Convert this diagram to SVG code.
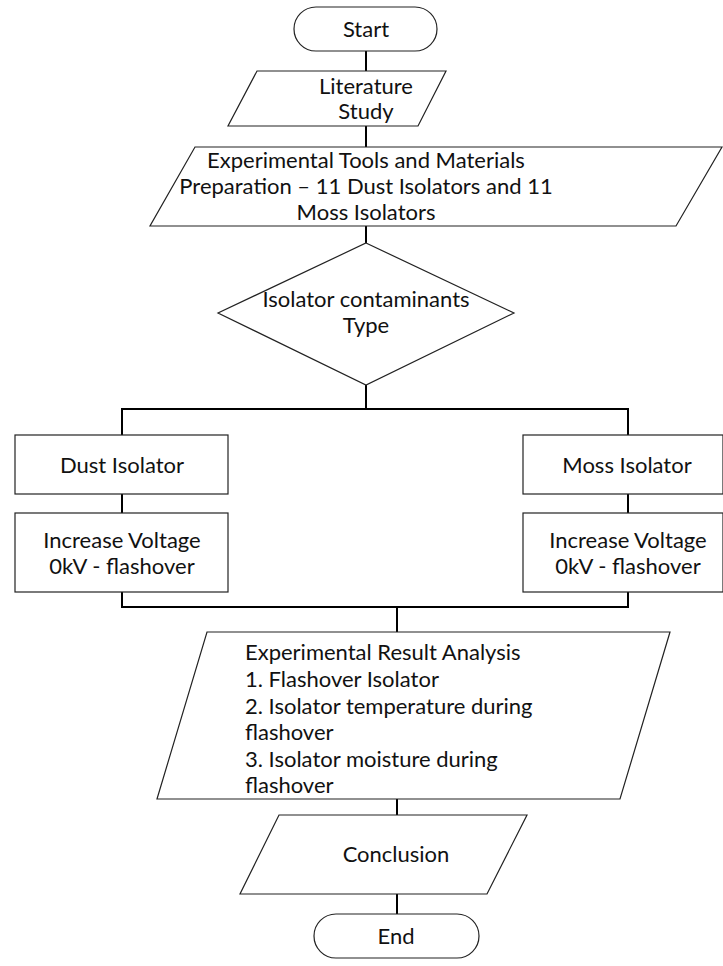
<svg xmlns="http://www.w3.org/2000/svg" width="723" height="966" viewBox="0 0 723 966">
<style>
.s{fill:#fff;stroke:#222;stroke-width:1.2}
.t{font-family:Lato,"Liberation Sans",sans-serif;font-size:22px;fill:#111;text-anchor:middle}
.l{text-anchor:start}
.c{fill:none;stroke:#000;stroke-width:2}
</style>
<rect width="723" height="966" fill="#fff"/>
<g id="connectors">
<line class="c" x1="366" y1="51" x2="366" y2="71"/>
<line class="c" x1="366" y1="126" x2="366" y2="147"/>
<line class="c" x1="366" y1="226" x2="366" y2="243"/>
<line class="c" x1="366" y1="385" x2="366" y2="409"/>
<polyline class="c" points="122,435 122,409 628,409 628,435"/>
<line class="c" x1="122" y1="494" x2="122" y2="513"/>
<line class="c" x1="628" y1="494" x2="628" y2="513"/>
<polyline class="c" points="122,592 122,607 628,607 628,592"/>
<line class="c" x1="397" y1="607" x2="397" y2="632"/>
<line class="c" x1="397" y1="799" x2="397" y2="815"/>
<line class="c" x1="397" y1="894" x2="397" y2="914"/>
</g>
<g id="start">
<rect class="s" x="294" y="7" width="143" height="44" rx="22"/>
<text class="t" x="366" y="37">Start</text>
</g>
<g id="literature">
<polygon class="s" points="257,71 446,71 418,126 228,126"/>
<text class="t" x="366" y="94">Literature</text>
<text class="t" x="366" y="119">Study</text>
</g>
<g id="preparation">
<polygon class="s" points="195,147 722,147 676,226 150,226"/>
<text class="t" x="366" y="168">Experimental Tools and Materials</text>
<text class="t" x="366" y="194">Preparation – 11 Dust Isolators and 11</text>
<text class="t" x="366" y="220">Moss Isolators</text>
</g>
<g id="decision">
<polygon class="s" points="366,243 514,313 366,385 218,313"/>
<text class="t" x="366" y="307">Isolator contaminants</text>
<text class="t" x="366" y="333">Type</text>
</g>
<g id="dust">
<rect class="s" x="15" y="435" width="213" height="59"/>
<text class="t" x="122" y="473">Dust Isolator</text>
</g>
<g id="dust-voltage">
<rect class="s" x="15" y="513" width="213" height="79"/>
<text class="t" x="122" y="548">Increase Voltage</text>
<text class="t" x="122" y="574">0kV - flashover</text>
</g>
<g id="moss">
<rect class="s" x="523" y="435" width="200" height="59"/>
<text class="t" x="627" y="473">Moss Isolator</text>
</g>
<g id="moss-voltage">
<rect class="s" x="523" y="513" width="200" height="79"/>
<text class="t" x="628" y="548">Increase Voltage</text>
<text class="t" x="628" y="574">0kV - flashover</text>
</g>
<g id="analysis">
<polygon class="s" points="207,632 670,632 620,799 157,799"/>
<text class="t l" x="245" y="660">Experimental Result Analysis</text>
<text class="t l" x="245" y="687">1. Flashover Isolator</text>
<text class="t l" x="245" y="714">2. Isolator temperature during</text>
<text class="t l" x="245" y="740">flashover</text>
<text class="t l" x="245" y="767">3. Isolator moisture during</text>
<text class="t l" x="245" y="793">flashover</text>
</g>
<g id="conclusion">
<polygon class="s" points="279,815 527,815 487,894 240,894"/>
<text class="t" x="396" y="862">Conclusion</text>
</g>
<g id="end">
<rect class="s" x="314" y="914" width="165" height="44" rx="22"/>
<text class="t" x="396" y="944">End</text>
</g>
</svg>
